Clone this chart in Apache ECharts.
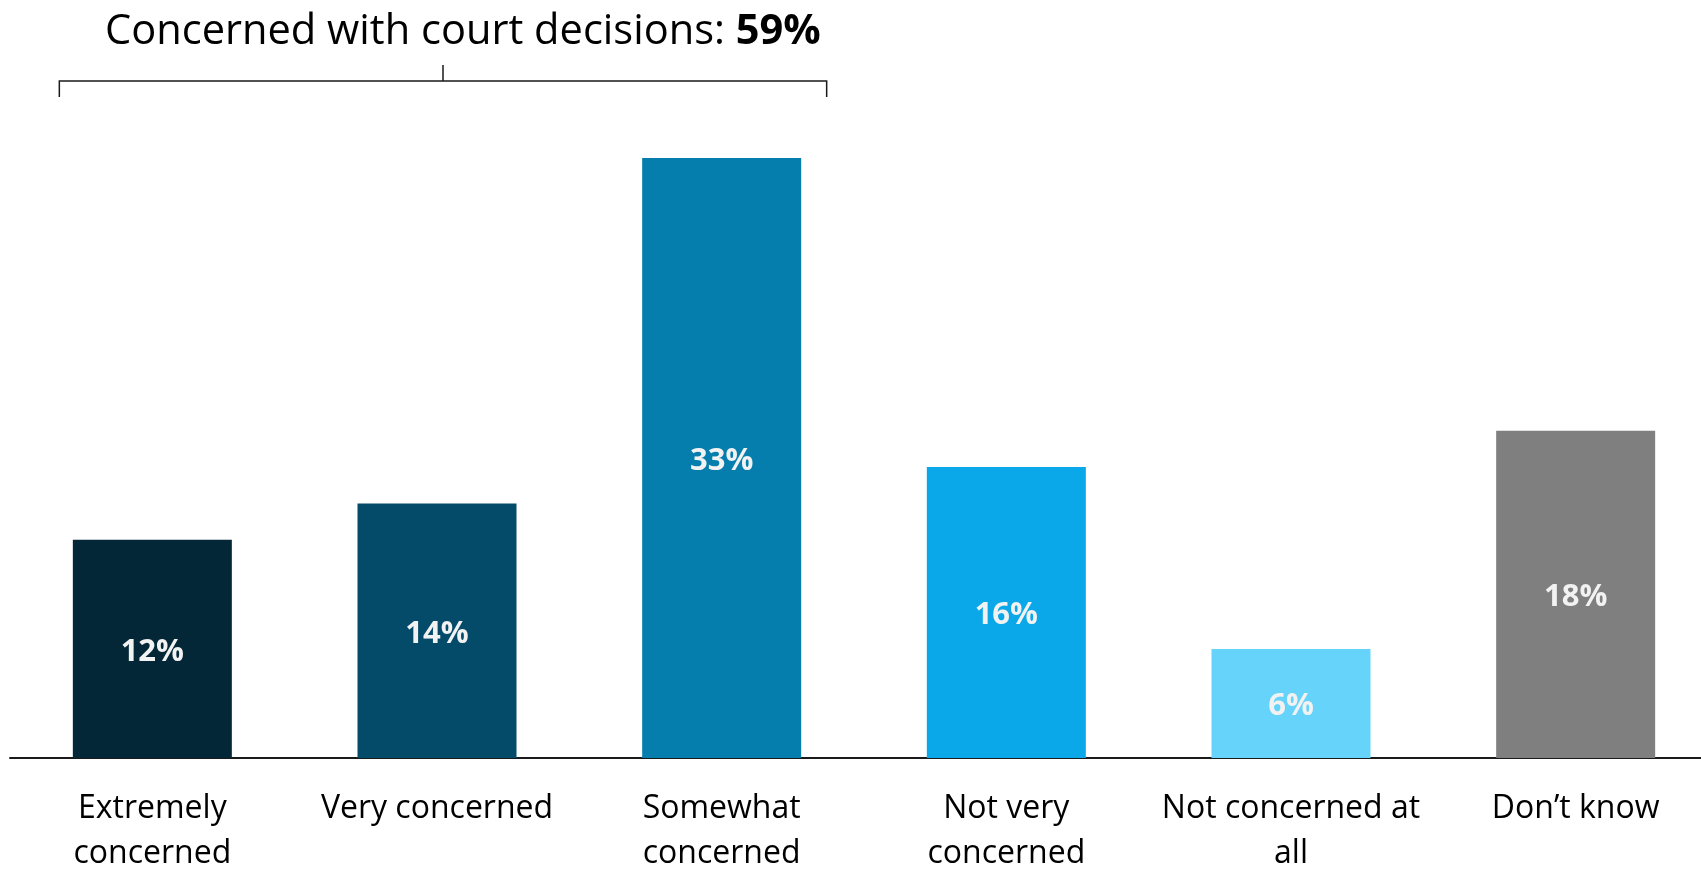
<!DOCTYPE html>
<html>
<head>
<meta charset="utf-8">
<title>Concern with court decisions</title>
<script src="https://cdn.jsdelivr.net/npm/echarts@6/dist/echarts.min.js"></script>
<style>
  html, body { margin: 0; padding: 0; background: #ffffff; }
  #chart { width: 1701px; height: 869px; }
</style>
</head>
<body>
<div id="chart"></div>
<script>
// Survey answers, share of respondents (%)
const categories = [
  'Extremely\nconcerned',
  'Very concerned',
  'Somewhat\nconcerned',
  'Not very\nconcerned',
  'Not concerned at\nall',
  'Don\u2019t know'
];
const shares = [12, 14, 33, 16, 6, 18];
const barColors = ['#032736', '#034b69', '#057dad', '#0aa8e8', '#66d3fa', '#7f7f7f'];

// Headline total for the three "concerned" answers
const headlineText = 'Concerned with court decisions: ';
const headlineValue = '59%';
const bracketFrom = 0;   // first category covered by the bracket
const bracketTo = 2;     // last category covered by the bracket

const FONT = '"Open Sans", "Noto Sans", sans-serif';

const chart = echarts.init(document.getElementById('chart'), null, { renderer: 'canvas' });

const option = {
  backgroundColor: '#ffffff',
  animation: false,
  title: {
    text: '{n|' + headlineText + '}{b|' + headlineValue + '}',
    left: 100,
    top: 0,
    textStyle: {
      rich: {
        n: { fontFamily: FONT, fontSize: 41.6, lineHeight: 54, color: '#000000', fontWeight: 'normal' },
        b: { fontFamily: FONT, fontSize: 41.6, lineHeight: 54, color: '#000000', fontWeight: 'bold' }
      }
    }
  },
  grid: {
    left: 10,
    right: -17,
    top: 158,
    bottom: 111,
    containLabel: false,
    outerBoundsMode: 'none'
  },
  xAxis: {
    type: 'category',
    data: categories,
    axisLine: { show: true, lineStyle: { color: '#1a1a1a', width: 2 } },
    axisTick: { show: false },
    axisLabel: {
      interval: 0,
      margin: 28,
      fontFamily: FONT,
      fontSize: 32,
      lineHeight: 45,
      color: '#000000',
      align: 'center'
    }
  },
  yAxis: {
    type: 'value',
    min: 0,
    max: 33,
    show: false,
    splitLine: { show: false }
  },
  series: [{
    type: 'bar',
    barWidth: 159,
    data: shares.map((v, i) => ({ value: v, itemStyle: { color: barColors[i] } })),
    label: {
      show: true,
      position: 'inside',
      offset: [0, 3],
      formatter: '{c}%',
      fontFamily: FONT,
      fontSize: 31,
      fontWeight: 'bold',
      color: '#f2f2f2'
    }
  }]
};

chart.setOption(option);

// Bracket over the "concerned" group, placed from the category scale
function drawBracket() {
  const first = chart.convertToPixel({ gridIndex: 0 }, [bracketFrom, 0]);
  const last = chart.convertToPixel({ gridIndex: 0 }, [bracketTo, 0]);
  const x0 = first[0] - 93;
  const x1 = last[0] + 105;
  const xm = (x0 + x1) / 2;
  const yLine = 81;
  const yEnd = 97;
  const yTop = 65;
  chart.setOption({
    graphic: [
      {
        type: 'polyline',
        shape: { points: [[x0, yEnd], [x0, yLine], [x1, yLine], [x1, yEnd]] },
        style: { stroke: '#1a1a1a', lineWidth: 1.5, fill: null }
      },
      {
        type: 'line',
        shape: { x1: xm, y1: yTop, x2: xm, y2: yLine },
        style: { stroke: '#1a1a1a', lineWidth: 1.5 }
      }
    ]
  });
}
drawBracket();
</script>
</body>
</html>
